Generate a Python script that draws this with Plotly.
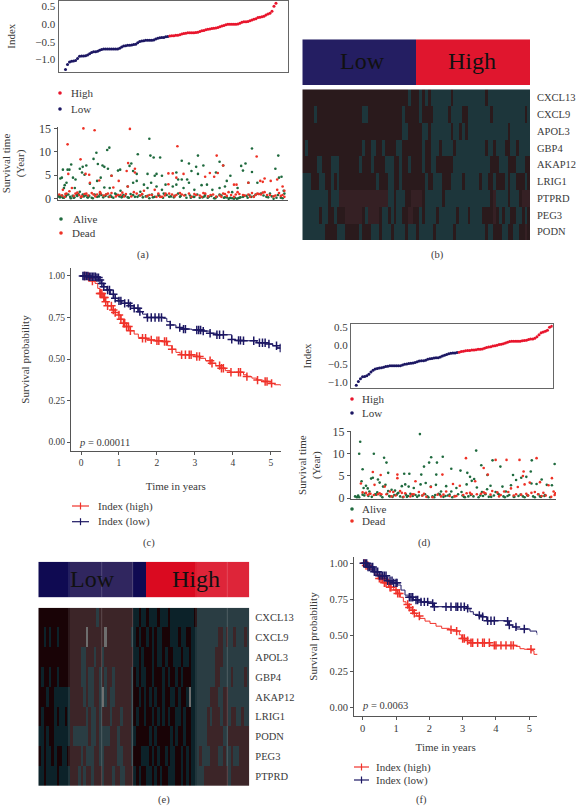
import bisect
import plotly.graph_objects as go

W, H = 576, 806
SERIF = "Liberation Serif"
TXT = "#3a3a3a"
NAVY = "#1c1763"
RED = "#e8152c"
GREEN = "#1f6a3e"
DOTRED = "#ee3226"
KMRED = "#f0322a"

# ---------- (a) risk index ----------
a_low = [-1.28,-1.14,-1.07,-1.05,-1.04,-1.03,-.97,-.91,-.90,-.90,-.89,-.87,-.84,-.80,-.78,-.78,-.77,-.74,-.72,-.70,
         -.70,-.70,-.70,-.70,-.70,-.70,-.70,-.68,-.65,-.62,-.61,-.60,-.60,-.59,-.58,-.57,-.53,-.49,-.48,-.47,
         -.46,-.46,-.46,-.46,-.45,-.42,-.40,-.39,-.38,-.38,-.36,-.35]
a_high = [-.34,-.33,-.33,-.32,-.32,-.30,-.28,-.27,-.26,-.25,-.25,-.25,-.25,-.24,-.23,-.21,-.19,-.18,-.16,-.15,
          -.14,-.13,-.12,-.11,-.10,-.08,-.06,-.04,-.02,-.01,-.01,-.01,-.01,-.01,0.0,.02,.05,.06,.06,.07,
          .09,.11,.13,.15,.18,.19,.20,.22,.25,.28,.30,.36,.50,.58]

# ---------- (a) survival ----------
a_alive_x = [8,12,15,28,33,38,43,50,62,70,80,68,75,100,108,112,125,130,140,138,144,150,168,174,200,205,223,210,220,250,
             255,258,267,285,270,275,290,345,365,372,385,405,390,330,335,360,390,440,450,460,480,470,510,522,515,540,540,605,613,615,
             622,25,20,18,48,62,90,100,110,120,130,145,160,175,195,210,220,230,240,250,260,275,290,300,320,330,345,350,365,380,
             400,415,430,450,465,485,500,530,555,590,5,10,15,25,35,45,55,70,85,98,110,122,135,150,168,180,195,210,222,235,
             250,265,280,295,310,325,340,355,370,380,395,410,420,435,450,465,475,480,490,498,505,515,525,538,550,565,580,600,620,630,628,
             3,7,13,18,23,30,37,42,47,53,58,65,73,78,83,88,95,103,115,118,127,133,142,147,155,163,172,178,183,188,
             198,203,215,227,237,245,255,262,270,283,293,303,315,323,335,342,358,368,377,388,403,408,417,427,438,442,455,462,470,478,
             485,493,502,508,518,528,533,545,558,572,585,595,608,612,625]
a_alive_y = [4.3,4.5,6.2,6.2,6.2,7.3,4.5,4.1,6.4,6.8,7.1,5.6,5.1,8.5,9.8,7.4,7.1,6.8,6.4,10.4,10.9,4.9,6.0,6.2,7.0,7.5,9.5,5.9,5.3,5.3,
             12.8,9.2,8.8,8.8,4.9,5.3,4.9,8.1,7.5,5.9,6.8,7.1,5.3,5.6,4.1,4.1,9.2,5.6,7.9,7.1,4.9,3.8,7.0,7.5,6.0,5.7,10.7,6.4,9.2,4.5,
             4.7,3.4,2.9,2.3,2.3,1.5,3.2,2.3,3.8,4.5,2.4,2.3,1.1,1.7,2.6,3.4,3.8,1.5,3.0,2.3,3.4,2.6,1.9,3.0,2.6,3.0,4.1,2.3,3.4,1.9,
             2.9,3.0,1.9,2.3,2.6,1.4,2.3,3.4,3.4,1.1,0.4,0.5,0.2,0.8,0.4,0.2,0.6,0.9,0.3,0.1,0.4,0.8,0.9,0.4,0.8,0.5,0.3,0.8,0.4,0.9,
             0.6,0.3,0.8,1.1,0.4,0.6,0.4,0.8,0.2,0.4,0.2,0.8,0.4,0.1,0.9,0.3,0.0,0.2,0.0,0.0,0.2,0.4,0.6,0.4,0.9,1.1,0.4,0.0,0.2,1.1,1.7,
             .6,.3,.7,.2,.5,.9,.1,.6,.3,.8,1.0,.2,.5,.7,.3,.6,.2,.9,.5,1.0,.3,.6,.4,.7,.2,.9,.5,.3,.8,.6,
             .2,1.0,.4,.7,.3,.5,.1,.9,.4,.6,.2,.8,.5,.3,1.1,.6,.2,.7,.4,.9,.3,.5,.2,.6,.1,.4,.7,.2,.3,.1,
             .1,.2,.1,.3,.6,.2,.8,.5,1.0,.7,.3,.5,.2,.8,.1]
a_dead_x = [28,72,103,201,333,64,196,442,460,553,30,78,88,90,116,150,170,192,215,215,308,320,308,350,330,410,423,435,445,490,
            497,530,563,570,575,592,610,625,630,15,25,40,50,60,80,100,120,140,155,175,195,220,240,270,290,310,330,345,365,400,
            425,440,460,475,490,515,545,565,575,590,610,620,630,20,65,110,145,185,255,275,300,385,410,455,500,535,555,
            5,12,22,33,45,55,68,75,85,95,105,118,128,135,150,162,168,180,190,205,212,230,235,248,262,280,285,298,318,325,
            340,352,372,380,395,405,418,432,450,465,470,482,495,505,520,530,540,550,560,570,582,600,605,615,625]
a_dead_y = [11.6,15.0,14.6,14.9,11.2,8.4,7.6,9.2,7.1,9.0,5.3,5.3,5.1,3.4,3.9,4.9,3.8,5.9,5.6,6.4,5.4,5.4,3.1,5.3,4.5,4.7,5.5,4.7,5.5,3.0,
            3.0,3.4,3.8,3.6,4.3,3.8,4.1,2.6,1.7,1.9,1.1,2.3,1.1,0.8,1.1,0.9,1.1,1.1,2.4,0.8,2.6,1.1,1.7,1.9,0.4,1.1,0.8,0.9,1.1,0.4,
            0.8,0.4,1.1,1.4,0.4,0.8,0.4,0.9,1.4,0.8,1.9,0.6,0.4,0.4,0.4,0.9,0.4,0.5,0.8,0.4,1.1,0.8,1.1,0.4,1.4,0.4,1.1,
            .9,.7,1.0,1.6,.6,1.3,.5,1.0,.7,1.2,.5,1.4,.7,.9,1.2,.5,.8,1.3,1.0,.5,1.4,.7,1.0,.5,.8,1.1,.4,.7,.9,.5,
            1.2,.7,.4,1.0,.7,1.2,.5,.9,.7,1.0,.6,.8,.9,1.0,.7,.9,1.2,.8,1.0,1.3,.8,.5,.7,1.2,.8]

# ---------- (d) risk index ----------
d_low = [-1.08,-.98,-.90,-.85,-.84,-.82,-.78,-.72,-.67,-.64,-.62,-.61,-.60,-.59,-.57,-.56,-.55,-.55,-.55,-.55,
         -.55,-.55,-.53,-.51,-.50,-.49,-.48,-.47,-.46,-.44,-.42,-.41,-.41,-.40,-.37,-.36,-.35,-.34,-.33,-.33,
         -.31,-.28,-.26,-.24,-.22,-.21,-.20,-.20,-.19]
d_high = [-.18,-.16,-.15,-.14,-.13,-.13,-.12,-.12,-.11,-.10,-.10,-.09,-.07,-.05,-.04,-.03,-.01,0.0,.01,.03,
          .04,.05,.07,.09,.11,.12,.12,.12,.12,.12,.13,.14,.15,.17,.18,.18,.20,.24,.30,.35,.37,.39,.42,.50,.53]

# ---------- (d) survival ----------
d_alive_x = [18,15,58,25,88,95,100,193,147,162,205,197,220,226,243,260,241,285,312,358,373,406,429,332,340,352,391,466,521,518,
             588,10,12,22,28,35,40,45,50,55,70,75,85,92,100,110,120,130,140,150,160,175,195,210,225,240,255,270,285,300,
             315,330,345,360,375,390,400,415,435,445,460,475,490,505,520,535,550,565,580,8,30,65,105,125,155,172,190,215,235,252,
             275,295,325,350,370,395,425,450,470,495,510,530,545,560,
             3,15,25,33,42,52,62,68,78,83,97,103,113,118,128,135,143,152,158,165,180,185,200,208,218,230,238,248,262,268,
             280,288,305,318,322,335,342,365,378,385,402,410,422,438,442,455,468,482,488,500,508,525,540,548,558,575]
d_alive_y = [12.7,10.0,10.0,6.5,9.1,8.0,5.7,14.4,5.5,5.5,7.1,5.3,8.0,9.2,8.0,9.3,5.3,6.6,6.2,10.7,7.4,8.5,7.1,5.7,4.8,4.3,5.2,5.2,8.5,6.0,
             7.7,0.3,0.6,3.8,2.3,2.8,2.2,1.5,4.4,4.6,4.2,3.5,2.6,3.0,1.6,1.9,1.7,1.2,2.7,3.1,2.6,2.3,3.1,3.4,2.6,3.0,1.5,2.7,1.5,2.3,
             1.4,3.1,3.9,2.4,1.4,2.0,2.8,1.4,2.6,1.5,2.9,4.1,4.6,4.8,3.3,3.2,4.2,3.0,2.9,0.2,0.6,0.8,0.4,0.8,0.3,0.5,0.6,0.4,0.2,0.8,
             0.6,0.5,0.2,0.4,0.6,0.3,0.8,0.5,0.3,0.4,0.6,0.2,0.4,0.7,
             .4,.2,.8,1.1,.5,.3,.9,1.3,.6,.2,1.0,.5,.3,.7,1.1,.4,.2,.8,.5,1.0,.7,.3,.6,.9,.2,.4,.7,1.0,.3,.5,
             .8,.2,.9,.6,.3,.4,.7,.2,.5,.9,.3,.6,1.0,.4,.2,.7,.3,.5,.8,.2,.6,.4,.9,.3,.5,.2]
d_dead_x = [55,78,127,127,259,328,380,392,415,447,485,535,497,495,580,20,35,45,60,80,90,115,135,150,165,180,205,225,245,270,
            290,310,330,355,380,400,420,440,460,480,500,515,530,545,555,570,585,40,70,110,145,175,200,255,300,345,385,430,475,510,550,590,
            25,48,58,75,95,105,122,140,170,190,212,230,262,280,295,320,340,360,372,405,425,452,468,490,505,520,540,562,578,588]
d_dead_y = [5.9,5.2,5.3,4.5,5.3,9.0,6.8,5.3,8.6,8.6,8.6,9.0,6.0,5.0,4.5,3.3,1.2,1.0,3.0,0.9,2.6,1.4,1.6,1.1,0.4,3.8,1.0,2.5,0.8,1.5,
            3.2,2.8,1.1,3.8,1.3,0.8,1.3,1.5,2.2,2.5,3.1,3.5,1.4,3.6,1.2,2.9,1.5,0.7,0.9,0.4,0.3,0.9,0.6,0.4,0.5,0.9,1.1,0.7,0.9,0.6,0.5,1.1,
            1.3,1.0,.7,1.1,.9,1.5,.6,1.2,.9,1.4,.3,.2,.8,.5,.4,.7,1.2,.9,1.0,1.6,.4,1.4,.6,.8,1.0,1.2,.9,.6,.3,.7]

# ---------- heatmaps ----------
genes_b = ["CXCL13","CXCL9","APOL3","GBP4","AKAP12","LRIG1","PTPRD","PEG3","PODN"]
rows_b = [
 "0000000000 0000000000 0000000000 0000000100 0101011111 1101111111 1111011111 1111111111",
 "0000100000 0000000000 0110000000 0000010000 0100001111 1011110011 1111110111 1111111101",
 "0000000000 0000000000 0000000000 0000011000 0011011111 1101101011 1111111111 1101111111",
 "0100000000 0000000000 0100110010 0001100000 0010011101 1110111111 1111011011 1001101111",
 "0000011000 1110000000 1000100001 1100100100 0010011000 0001111111 1111110001 1100011100",
 "1110001100 1010000000 0000001000 1100100000 0001001110 0011110111 1101100100 0101100010",
 "1111111110 1112222222 2222222222 1101110022 2201111110 1111111111 1111110211 1101110222",
 "1111110110 0100022222 2012222011 0101100220 0101111011 1111011101 1110000201 0110011010",
 "1111111100 0011100000 1000111011 1011110111 0111110111 1110111111 1111011000 1100110020",
]
bar_b = "0000000000 0000000000 0000000000 0000000000 1111111111 1111111111 1111111111 1111111111"

genes_e = ["CXCL13","CXCL9","APOL3","GBP4","AKAP12","LRIG1","PODN","PEG3","PTPRD"]
rows_e = [
 "0000000000 0000000000 0010000000 0000001101 1011101110 1111111110 1111111111 1111111111",
 "0010100100 0000000040 0000040000 0000011010 0101011000 1110110011 1111111100 1011011101",
 "0000000000 0000001100 0100100000 0000001101 0001011010 0111011011 1111111000 1111111111",
 "0100100100 0000001101 1001010010 0000010101 1001000101 0010100011 1111111001 1110111101",
 "0001001111 1100000101 1001410110 0000010010 1010100100 1101001411 1111100011 0011111111",
 "0100001011 0100000010 1101000100 0100010100 1001010101 0011010011 1111010001 0010011011",
 "1101001111 1101111110 1101111000 1000011000 0010100000 1010010011 1111000000 1100000000",
 "0101101001 1000001011 1001100000 1100010001 1101010010 1100101011 1011100011 0110110000",
 "1101111011 1100010100 1000100010 0110001010 0110101001 1100101011 1110000000 0010000000",
]
light_cols_e = list(range(12, 36)) + list(range(60, 80))
bar_e = "0000000000 0011111111 1111111111 1111110000 0222222222 2222222222 3333333333 3333333333"

# ---------- Kaplan-Meier (c) ----------
c_hi_t = [0,.12,.24,.30,.37,.44,.50,.56,.63,.70,.81,.90,.98,1.05,1.12,1.20,1.29,1.40,1.51,1.62,1.73,1.95,2.17,2.28,2.39,2.50,2.61,2.96,3.05,3.14,3.28,3.42,3.55,3.66,3.80,3.93,4.19,4.28,4.37,4.50,4.63,4.80,4.98,5.10,5.26]
c_hi_s = [1,.995,.985,.97,.955,.925,.895,.87,.845,.82,.795,.78,.765,.74,.715,.695,.67,.65,.63,.625,.615,.61,.605,.58,.558,.54,.526,.524,.515,.504,.49,.474,.46,.444,.43,.42,.42,.405,.394,.385,.373,.365,.353,.345,.339]
c_lo_t = [0,.20,.41,.47,.54,.60,.68,.78,.90,.98,1.07,1.29,1.40,1.51,1.62,1.73,2.17,2.26,2.35,2.50,2.61,2.92,3.22,3.40,3.58,3.80,3.97,4.05,4.28,4.63,4.94,5.05,5.16,5.30]
c_lo_s = [1,.995,.99,.975,.955,.935,.915,.89,.865,.85,.835,.82,.805,.785,.77,.75,.745,.725,.705,.69,.68,.675,.668,.655,.646,.646,.618,.612,.61,.598,.59,.58,.566,.564]
c_hi_cens = [.1,.2,.3,.5,.52,.55,.6,.62,.65,.7,.8,.85,.9,1.0,1.05,1.12,1.15,1.2,1.25,1.3,1.62,1.7,1.85,2.0,2.05,2.2,2.25,2.4,2.65,2.75,2.85,2.9,3.05,3.12,3.4,3.45,3.65,3.7,3.75,3.95,4.15,4.2,4.37,4.65,4.85,4.9,5.02]
c_lo_cens = [.05,.08,.1,.14,.18,.22,.26,.3,.34,.38,.42,.46,.5,.55,.6,.7,.75,.85,.9,1.0,1.05,1.15,1.25,1.3,1.4,1.5,1.55,1.75,1.85,1.95,2.05,2.12,2.35,2.6,2.7,2.75,3.05,3.1,3.15,3.22,3.4,3.58,3.65,3.75,3.97,4.15,4.2,4.28,4.55,4.7,4.78,4.85,4.95,5.15,5.25]

# ---------- Kaplan-Meier (f) ----------
f_hi_t = [0,.10,.22,.35,.47,.65,.82,.93,1.04,1.13,1.22,1.30,1.37,1.45,1.52,1.62,1.72,1.87,2.02,2.20,2.37,2.60,2.82,2.90,2.97,3.10,3.22,3.67,3.82,4.52,4.60,4.72,4.85,5.07,5.14,5.27]
f_hi_s = [1,.985,.96,.925,.896,.865,.834,.815,.792,.765,.734,.715,.695,.675,.654,.635,.619,.60,.584,.565,.55,.54,.531,.505,.48,.465,.45,.45,.432,.432,.425,.409,.405,.395,.37,.37]
f_lo_t = [0,.15,.32,.50,.72,.90,1.04,1.15,1.27,1.40,1.52,1.75,1.97,2.12,2.60,3.12,3.22,3.32,3.45,3.57,3.72,4.27,4.37,4.50,4.62,5.02,5.22,5.24]
f_lo_s = [1,.975,.942,.915,.88,.865,.85,.815,.78,.765,.746,.733,.723,.70,.70,.688,.665,.647,.64,.63,.603,.60,.573,.56,.545,.531,.52,.503]
f_hi_cens = [.05,.1,.15,.5,.55,.6,.65,.7,.78,.82,.85,1.0,1.05,1.1,1.35,1.4,1.5,1.55,1.7,2.65,2.82,3.0,3.05,3.15,3.25,3.3,3.45,3.6,3.65,3.8,3.95,4.0,4.15,4.3,4.45,4.52,5.05]
f_lo_cens = [.03,.08,.12,.16,.2,.25,.3,.35,.4,.45,.5,.55,.6,.65,.7,.75,.82,.88,.93,1.0,1.03,1.4,1.45,1.5,1.6,1.65,1.75,1.85,1.95,2.1,2.15,2.5,2.65,2.8,2.85,2.95,3.05,3.15,3.5,3.6,3.75,3.85,3.95,4.35,4.4,4.6,4.85]

def row(s):
    return [int(c) for c in s.replace(" ", "")]

def s_at(ts, ss, t):
    return ss[max(bisect.bisect_right(ts, t) - 1, 0)]

def px(x): return x / W
def py(y): return 1 - y / H
def xdom(a, b): return [px(a), px(b)]
def ydom(top, bot): return [py(bot), py(top)]

fig = go.Figure()
def afont(size=10.5): return dict(family=SERIF, size=size, color=TXT)
LINE = "#555555"

def index_panel(xn, low, high):
    n = len(low)
    fig.add_trace(go.Scatter(x=list(range(n)), y=low, mode="markers", marker=dict(color=NAVY, size=3),
                             xaxis=f"x{xn}", yaxis=f"y{xn}", showlegend=False))
    fig.add_trace(go.Scatter(x=list(range(n, n + len(high))), y=high, mode="markers", marker=dict(color=RED, size=3),
                             xaxis=f"x{xn}", yaxis=f"y{xn}", showlegend=False))

def surv_panel(xn, ax, ay, dx, dy):
    fig.add_trace(go.Scatter(x=ax, y=ay, mode="markers", marker=dict(color=GREEN, size=2.6),
                             xaxis=f"x{xn}", yaxis=f"y{xn}", showlegend=False))
    fig.add_trace(go.Scatter(x=dx, y=dy, mode="markers", marker=dict(color=DOTRED, size=2.6),
                             xaxis=f"x{xn}", yaxis=f"y{xn}", showlegend=False))

def km_panel(xn, t, s, cens, color):
    fig.add_trace(go.Scatter(x=t, y=s, mode="lines", line=dict(color=color, width=1, shape="hv"),
                             xaxis=f"x{xn}", yaxis=f"y{xn}", showlegend=False))
    fig.add_trace(go.Scatter(x=cens, y=[s_at(t, s, c) for c in cens], mode="markers",
                             marker=dict(symbol="cross-thin", size=6, line=dict(color=color, width=1.5)),
                             xaxis=f"x{xn}", yaxis=f"y{xn}", showlegend=False))

def heat(xn, z, y, colorscale, zmax):
    fig.add_trace(go.Heatmap(z=z, y=y, colorscale=colorscale, zmin=0, zmax=zmax, showscale=False,
                             xaxis=f"x{xn}", yaxis=f"y{xn}", hoverinfo="skip"))

def discrete(cols):
    n = len(cols)
    out = []
    for i, c in enumerate(cols):
        out += [[i / n, c], [(i + 1) / n, c]]
    return out

index_panel(1, a_low, a_high)
surv_panel(2, a_alive_x, a_alive_y, a_dead_x, a_dead_y)
heat(3, [row(bar_b)], ["bar"], discrete(["#241e62", "#e0162e"]), 2)
heat(4, [row(r) for r in rows_b], genes_b, discrete(["#2a1a1c", "#1d363b", "#352024"]), 3)
km_panel(5, c_hi_t, c_hi_s, c_hi_cens, KMRED)
km_panel(5, c_lo_t, c_lo_s, c_lo_cens, NAVY)
index_panel(6, d_low, d_high)
surv_panel(7, d_alive_x, d_alive_y, d_dead_x, d_dead_y)
heat(8, [row(bar_e)], ["bar"], discrete(["#0f0a52", "#30265f", "#da0a20", "#de2539"]), 4)
z_e = []
for r in rows_e:
    vals = row(r)
    z_e.append([v + 2 if (i in light_cols_e and v < 4) else v for i, v in enumerate(vals)])
heat(9, z_e, genes_e, discrete(["#190306", "#0c2229", "#3c2528", "#2a3d43", "#6e6e6e"]), 5)
km_panel(10, f_hi_t, f_hi_s, f_hi_cens, KMRED)
km_panel(10, f_lo_t, f_lo_s, f_lo_cens, NAVY)

hidden = dict(showticklabels=False, ticks="", showgrid=False, zeroline=False, showline=False)
box = dict(showline=True, linecolor="#666666", linewidth=1, mirror=True, showgrid=False, zeroline=False)
open_ax = dict(showline=True, linecolor=LINE, linewidth=1, showgrid=False, zeroline=False)
def tick(size): return dict(ticks="outside", ticklen=3, tickcolor=LINE, tickwidth=1, tickfont=afont(size))
ttl = afont(11)

L = dict(
    # (a) index
    xaxis1=dict(domain=xdom(58.5, 288), range=[-3.5, 111], **hidden | dict(showline=True, linecolor="#666666", mirror=True)),
    yaxis1=dict(domain=ydom(0.5, 72), range=[-1.35, 0.66], tickvals=[-1, -.5, 0, .5], ticktext=["\u22121.0", "\u22120.5", "0.0", "0.5"],
                tickfont=afont(11), ticks="", anchor="x1", title=dict(text="Index", font=ttl, standoff=17), **box),
    # (a) survival
    xaxis2=dict(domain=xdom(57.5, 288), range=[0, 640], anchor="y2", **hidden | dict(showline=True, linecolor=LINE)),
    yaxis2=dict(domain=ydom(127, 200), range=[-0.27, 15.3], tickvals=[0, 5, 10, 15], anchor="x2",
                title=dict(text="Survival time<br>(Year)", font=ttl, standoff=12), **open_ax, **tick(12)),
    # (b)
    xaxis3=dict(domain=xdom(302.3, 530), anchor="y3", **hidden),
    yaxis3=dict(domain=ydom(39.3, 85), anchor="x3", **hidden),
    xaxis4=dict(domain=xdom(302.3, 530), anchor="y4", **hidden),
    yaxis4=dict(domain=ydom(89.3, 240), anchor="x4", side="right", autorange="reversed", tickfont=afont(10.5), ticks="",
                ticklabelstandoff=6, showgrid=False, zeroline=False, showline=False),
    # (c)
    xaxis5=dict(domain=xdom(71, 280.7), range=[-.264, 5.26], anchor="y5", tickvals=[0, 1, 2, 3, 4, 5],
                title=dict(text="Time in years", font=ttl, standoff=15), **open_ax, **tick(9.5)),
    yaxis5=dict(domain=ydom(268.3, 450.7), range=[-.052, 1.046], anchor="x5", tickvals=[0, .25, .5, .75, 1],
                tickformat=".2f", title=dict(text="Survival probability", font=ttl, standoff=16), **open_ax, **tick(9.5)),
    # (d) index
    xaxis6=dict(domain=xdom(351, 552.7), anchor="y6", range=[-2.5, 93.5], **hidden | dict(showline=True, linecolor="#666666", mirror=True)),
    yaxis6=dict(domain=ydom(324, 388), range=[-1.155, 0.59], anchor="x6", tickvals=[-1, -.5, 0, .5],
                ticktext=["\u22121.0", "\u22120.5", "0.0", "0.5"], tickfont=afont(11), ticks="",
                title=dict(text="Index", font=ttl, standoff=13), **box),
    # (d) survival
    xaxis7=dict(domain=xdom(351, 556), anchor="y7", range=[-9, 592], **hidden | dict(showline=True, linecolor=LINE)),
    yaxis7=dict(domain=ydom(431, 499.3), range=[-0.25, 15.1], anchor="x7", tickvals=[0, 5, 10, 15],
                title=dict(text="Survival time<br>(Year)", font=ttl, standoff=9), **open_ax, **tick(12)),
    # (e)
    xaxis8=dict(domain=xdom(38.3, 249.3), anchor="y8", **hidden),
    yaxis8=dict(domain=ydom(561.7, 597.3), anchor="x8", **hidden),
    xaxis9=dict(domain=xdom(38.3, 249.3), anchor="y9", **hidden),
    yaxis9=dict(domain=ydom(607.7, 786), anchor="x9", side="right", autorange="reversed", tickfont=afont(10.5), ticks="",
                ticklabelstandoff=5, showgrid=False, zeroline=False, showline=False),
    # (f)
    xaxis10=dict(domain=xdom(354, 537.3), range=[-.261, 5.24], anchor="y10", tickvals=[0, 1, 2, 3, 4, 5],
                 title=dict(text="Time in years", font=ttl, standoff=10), **open_ax, **tick(10.5)),
    yaxis10=dict(domain=ydom(557.3, 715.7), range=[-.055, 1.042], anchor="x10", tickvals=[0, .25, .5, .75, 1],
                 tickformat=".2f", title=dict(text="Survival probability", font=ttl, standoff=9), **open_ax, **tick(10.5)),
)
for ax in L.values():
    ax["automargin"] = False

shapes, ann = [], []

def text(x, y, s, size=10.5, color=TXT, anchor="left"):
    ann.append(dict(x=px(x), y=py(y), xref="paper", yref="paper", text=s, showarrow=False, xanchor=anchor, yanchor="middle",
                    font=dict(family=SERIF, size=size, color=color)))

def dot_key(x, y, label, tx, color):
    r = 1.8
    shapes.append(dict(type="circle", xref="paper", yref="paper", x0=px(x - r), x1=px(x + r), y0=py(y + r), y1=py(y - r),
                       fillcolor=color, line=dict(width=0)))
    text(tx, y, label, size=11)

def line_key(x0, x1, y, label, tx, color):
    xm = (x0 + x1) / 2
    shapes.append(dict(type="line", xref="paper", yref="paper", x0=px(x0), x1=px(x1), y0=py(y), y1=py(y), line=dict(color=color, width=1.2)))
    shapes.append(dict(type="line", xref="paper", yref="paper", x0=px(xm), x1=px(xm), y0=py(y - 3.5), y1=py(y + 3.5), line=dict(color=color, width=1.2)))
    text(tx, y, label, size=11)

def sep_line(x, y0, y1):
    shapes.append(dict(type="line", xref="paper", yref="paper", x0=px(x), x1=px(x), y0=py(y0), y1=py(y1),
                       line=dict(color="rgba(255,255,255,0.22)", width=0.8)))

for sx in [69, 101.7, 132.7, 196, 227.3]:
    sep_line(sx, 561.7, 597.3)
    sep_line(sx, 607.7, 786)

dot_key(60, 93, "High", 69, RED)
dot_key(60, 109, "Low", 69, NAVY)
dot_key(61, 219, "Alive", 71, GREEN)
dot_key(61, 233, "Dead", 70, DOTRED)
line_key(72, 89, 506, "Index (high)", 96, KMRED)
line_key(72, 89, 521.7, "Index (low)", 96, NAVY)
dot_key(352, 399, "High", 360, RED)
dot_key(352, 413, "Low", 360, NAVY)
dot_key(352, 509, "Alive", 360, GREEN)
dot_key(352, 521, "Dead", 360, DOTRED)
line_key(354, 369, 767, "Index (high)", 374, KMRED)
line_key(354, 369, 780, "Index (low)", 374, NAVY)

text(143, 255, "(a)", anchor="center")
text(437, 255, "(b)", anchor="center")
text(149, 543, "(c)", anchor="center")
text(424, 543, "(d)", anchor="center")
text(164, 800, "(e)", anchor="center")
text(421, 800, "(f)", anchor="center")
text(76.5, 442.5, "<i>p</i> = 0.00011")
text(360, 705.5, "<i>p</i> = 0.0063")
text(362, 61, "Low", size=24, color="#111111", anchor="center")
text(472, 61, "High", size=24, color="#111111", anchor="center")
text(92, 578.5, "Low", size=24, color="#111111", anchor="center")
text(196, 578.5, "High", size=24, color="#111111", anchor="center")

fig.update_layout(width=W, height=H, margin=dict(l=0, r=0, t=0, b=0), paper_bgcolor="white", plot_bgcolor="white",
                  showlegend=False, font=dict(family=SERIF, size=10.5, color=TXT), shapes=shapes, annotations=ann, **L)
fig.write_html("out.html", post_script="document.body.style.margin='0';", config=dict(displayModeBar=False))
